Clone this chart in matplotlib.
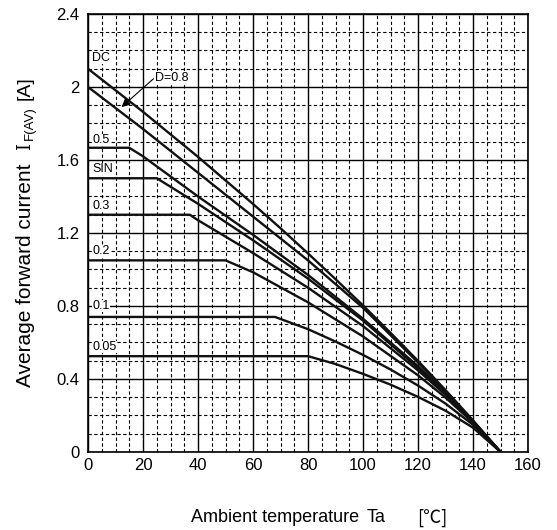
import numpy as np
import matplotlib
matplotlib.use('Agg')
import matplotlib.pyplot as plt
from matplotlib.ticker import MultipleLocator

# derating curves (Ta in degC, I in A)
dc_t = [0, 20, 40, 60, 70, 80, 90, 100, 110, 120, 130, 140, 150]
dc_i = [2.10, 1.864, 1.617, 1.359, 1.226, 1.088, 0.947, 0.803, 0.653, 0.499, 0.339, 0.173, 0.0]

d08_t = [0, 20, 40, 60, 80, 100, 120, 130, 140, 150]
d08_i = [2.00, 1.77, 1.53, 1.29, 1.05, 0.79, 0.49, 0.335, 0.17, 0.0]

d05_t = [0, 15, 20, 40, 60, 80, 100, 120, 130, 140, 150]
d05_i = [1.667, 1.667, 1.62, 1.40, 1.19, 0.97, 0.73, 0.47, 0.325, 0.168, 0.0]

sin_t = [0, 25, 40, 60, 80, 100, 120, 130, 140, 150]
sin_i = [1.50, 1.50, 1.36, 1.16, 0.95, 0.72, 0.46, 0.32, 0.167, 0.0]

d03_t = [0, 37, 40, 60, 80, 100, 120, 130, 140, 150]
d03_i = [1.30, 1.30, 1.27, 1.09, 0.90, 0.69, 0.447, 0.313, 0.165, 0.0]

d02_t = [0, 50, 60, 80, 100, 120, 130, 140, 150]
d02_i = [1.05, 1.05, 0.985, 0.82, 0.633, 0.42, 0.298, 0.161, 0.0]

d01_t = [0, 68, 80, 90, 100, 110, 120, 130, 140, 150]
d01_i = [0.74, 0.74, 0.673, 0.605, 0.532, 0.452, 0.364, 0.265, 0.149, 0.0]

d005_t = [0, 80, 90, 100, 110, 120, 130, 140, 150]
d005_i = [0.525, 0.525, 0.482, 0.428, 0.369, 0.302, 0.226, 0.133, 0.0]

curves = [(dc_t, dc_i), (d08_t, d08_i), (d05_t, d05_i), (sin_t, sin_i),
          (d03_t, d03_i), (d02_t, d02_i), (d01_t, d01_i), (d005_t, d005_i)]

# curve labels on the left edge
labels = ['DC', '0.5', 'SIN', '0.3', '0.2', '0.1', '0.05']
label_y = [2.16, 1.71, 1.55, 1.35, 1.10, 0.80, 0.575]

x_ticks = [0, 20, 40, 60, 80, 100, 120, 140, 160]
y_ticks = [0, 0.4, 0.8, 1.2, 1.6, 2.0, 2.4]
y_tick_labels = ['0', '0.4', '0.8', '1.2', '1.6', '2', '2.4']

plt.rcParams['font.family'] = ['Liberation Sans', 'DejaVu Sans']

fig = plt.figure(figsize=(5.57, 5.30), dpi=100)
ax = fig.add_axes([0.158, 0.1472, 0.790, 0.8264])

ax.set_xlim(0, 160)
ax.set_ylim(0, 2.4)
ax.set_xticks(x_ticks)
ax.set_yticks(y_ticks)
ax.set_yticklabels(y_tick_labels)
ax.xaxis.set_minor_locator(MultipleLocator(5))
ax.yaxis.set_minor_locator(MultipleLocator(0.1))
ax.tick_params(which='both', length=0, labelsize=12, colors='black')
ax.tick_params(axis='x', pad=4)
ax.tick_params(axis='y', pad=6)

ax.grid(which='major', color='black', lw=1.0, linestyle='-')
ax.grid(which='minor', color='black', lw=0.8, linestyle=(0, (3, 2.2)))
ax.set_axisbelow(True)
for s in ax.spines.values():
    s.set_linewidth(1.2)

for t, i in curves:
    ax.plot(t, i, color='#111111', lw=1.7, zorder=3)

for txt, y in zip(labels, label_y):
    ax.text(1.6, y, txt, fontsize=9, ha='left', va='center', zorder=4,
            bbox=dict(facecolor='white', edgecolor='none', pad=0.3))

ax.text(24.3, 2.05, 'D=0.8', fontsize=9, ha='left', va='center', zorder=4,
        bbox=dict(facecolor='white', edgecolor='none', pad=0.3))
ax.annotate('', xy=(12.2, 1.89), xytext=(23.8, 2.045),
            arrowprops=dict(arrowstyle='-|>', color='black', lw=0.8,
                            mutation_scale=12, shrinkA=0, shrinkB=0), zorder=5)

# axis titles
fig.text(0.045, 1 - 275 / 530, 'Average forward current', rotation=90,
         ha='center', va='center', fontsize=15)
fig.text(0.045, 1 - 147 / 530, 'I', rotation=90, ha='center', va='center',
         fontsize=13, family='DejaVu Serif')
fig.text(0.053, 1 - 123 / 530, 'F(AV)', rotation=90, ha='center', va='center',
         fontsize=9.5)
fig.text(0.045, 1 - 88 / 530, '[A]', rotation=90, ha='center', va='center',
         fontsize=14)

fig.text(191 / 557, 1 - 518 / 530, 'Ambient temperature', ha='left', va='center',
         fontsize=13)
fig.text(367 / 557, 1 - 518 / 530, 'Ta', ha='left', va='center', fontsize=13)
fig.text(417 / 557, 1 - 518 / 530, '[℃]', ha='left', va='center', fontsize=13,
         family=['Noto Sans CJK JP', 'DejaVu Sans'])

fig.savefig('out.png', dpi=100, facecolor='white')
